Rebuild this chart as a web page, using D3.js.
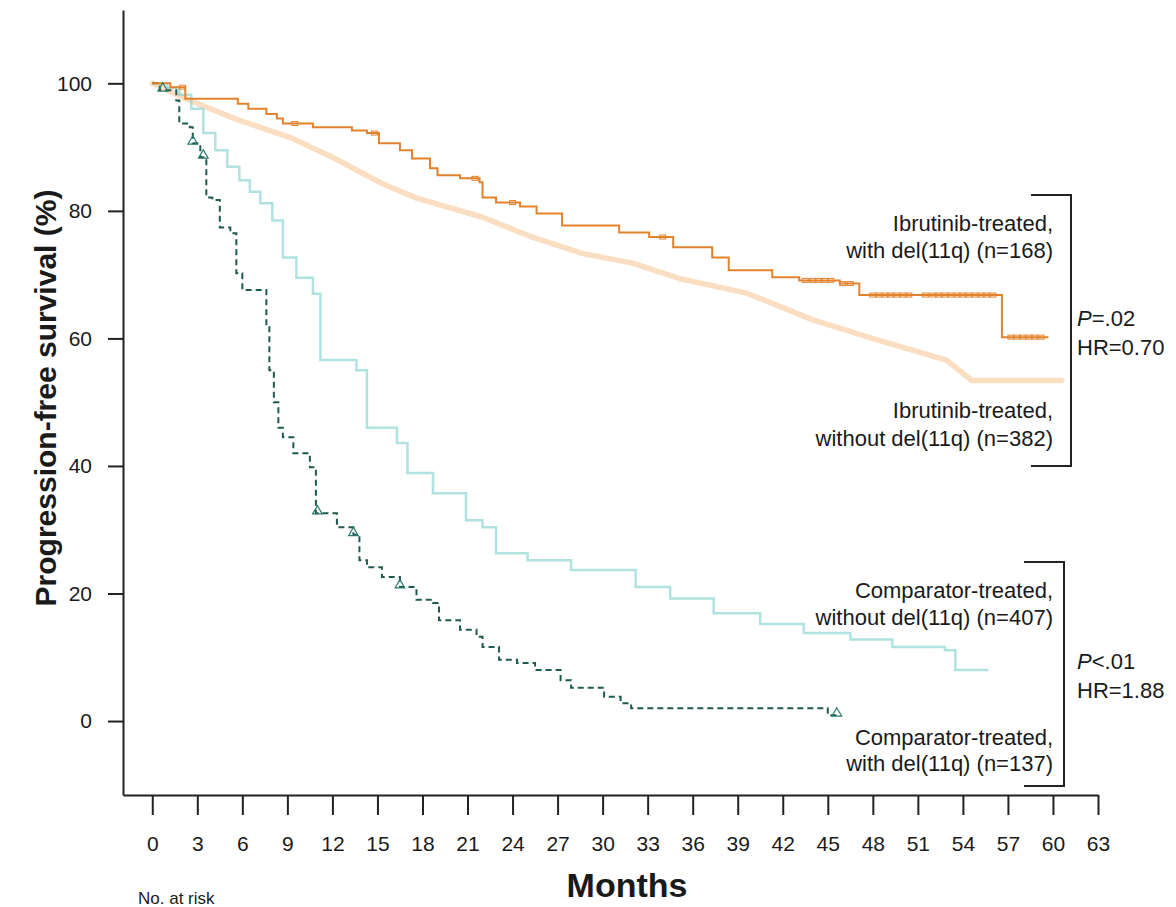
<!DOCTYPE html>
<html><head><meta charset="utf-8">
<script src="https://cdn.jsdelivr.net/npm/d3@7"></script>
<style>
body{margin:0;background:#fff}
svg{display:block}
text{font-family:"Liberation Sans",Arial,Helvetica,sans-serif;fill:#1a1a1a}
</style>
</head><body>
<svg id="chart" width="1176" height="907"></svg>
<script>
// ---- data (months, PFS %) ----
const xTickValues = [0,3,6,9,12,15,18,21,24,27,30,33,36,39,42,45,48,51,54,57,60,63];
const yTickValues = [0,20,40,60,80,100];

const ibrutinibDel = [[0,100],[1.2,99.4],[2.2,97.6],[5.7,96.8],[6.4,96.0],[7.6,95.2],[8.3,94.5],[8.7,93.7],[10.7,93.1],[13.3,92.6],[14.3,92.2],[15.1,90.6],[16.5,89.5],[17.3,88.2],[18.5,86.7],[19.0,85.6],[20.5,85.1],[21.8,84.5],[22.0,82.1],[22.9,81.3],[24.5,80.7],[25.6,79.6],[27.3,77.7],[31.1,76.6],[33.1,75.9],[34.7,74.3],[37.3,72.7],[38.4,70.7],[41.3,69.6],[43.1,69.1],[45.8,68.6],[47.1,66.8],[56.6,60.2],[59.7,60.2]];
const ibrutinibDelCensor = [2.0,9.5,14.8,21.5,24.0,34.0,43.5,44.0,44.4,44.8,45.2,46.0,46.5,48.0,48.4,48.8,49.2,49.6,50.0,50.4,51.5,52.0,52.4,52.8,53.2,53.6,54.0,54.4,54.8,55.2,55.6,56.0,57.2,57.6,58.0,58.4,58.8,59.2];

const ibrutinibNoDel = [[0,100],[2.5,97.3],[5.8,94.2],[9.2,91.5],[12.0,88.4],[15.3,84.3],[17.6,82],[22.0,79],[25.3,75.9],[28.7,73.3],[32.0,71.8],[35.1,69.4],[39.6,67.1],[44.0,62.9],[48.4,59.7],[52.9,56.6],[54.6,53.4],[60.6,53.4]];

const comparatorNoDel = [[0,100],[1.0,99.3],[1.8,98.2],[2.6,96],[3.4,92.2],[4.2,89.5],[5.0,86.9],[5.8,84.8],[6.5,83],[7.2,81.2],[8.0,78.5],[8.7,72.7],[9.6,69.5],[10.7,67],[11.2,56.6],[13.6,55],[14.3,46],[16.3,43.6],[17.0,38.9],[18.7,35.7],[20.9,31.5],[22.0,30.4],[22.9,26.3],[25.0,25.2],[27.9,23.7],[32.2,21],[34.5,19.2],[37.4,16.9],[40.5,15.2],[43.4,13.8],[46.5,12.8],[49.3,11.6],[52.8,11.1],[53.5,8],[55.7,8]];

const comparatorDel = [[0,100],[0.5,98.9],[1.6,97.3],[1.8,93.7],[2.5,93.1],[2.7,90.6],[3.2,88.4],[3.6,82.1],[4.0,81.7],[4.5,77.4],[5.2,76.5],[5.6,70.2],[6.0,67.6],[7.6,62],[7.8,55],[8.1,50],[8.4,46],[8.7,44.5],[9.4,42],[10.5,39.8],[10.9,32.6],[12.3,30.4],[13.4,29.2],[13.8,25.2],[14.3,24.1],[15.3,22.6],[16.5,21],[17.6,19],[18.7,18.5],[19.1,15.8],[20.5,14.3],[21.6,13.2],[22.0,11.6],[23.1,9.6],[24.3,9.1],[25.5,8],[27.2,6.4],[27.9,5.2],[30.1,3.8],[31.2,2.8],[31.9,2],[45.0,0.9],[45.7,0.9]];
const comparatorDelCensor = [0.7,2.7,3.4,11.0,13.4,16.5,45.6];

const labelIbrDel = ["Ibrutinib-treated,","with del(11q) (n=168)"];
const labelIbrNoDel = ["Ibrutinib-treated,","without del(11q) (n=382)"];
const labelCompNoDel = ["Comparator-treated,","without del(11q) (n=407)"];
const labelCompDel = ["Comparator-treated,","with del(11q) (n=137)"];
const statsIbr = ["P", "=.02", "HR=0.70"];
const statsComp = ["P", "<.01", "HR=1.88"];
const xTitle = "Months";
const yTitle = "Progression-free survival (%)";
const riskTitle = "No. at risk";

// ---- layout ----
const svg = d3.select("#chart");
const x = d3.scaleLinear().domain([-1.95, 63]).range([123, 1098]);
const y = d3.scaleLinear().domain([-11.6, 111.5]).range([795, 10]);

const stepVal = (s, t) => { let v = s[0][1]; for (const p of s) { if (p[0] <= t) v = p[1]; } return v; };

// axes
const xAxis = d3.axisBottom(x).tickValues(xTickValues).tickSize(20).tickSizeOuter(0).tickPadding(21);
const gx = svg.append("g").attr("transform", "translate(0,795)").call(xAxis);
gx.select(".domain").attr("stroke", "#222").attr("stroke-width", 2);
gx.selectAll(".tick line").attr("stroke", "#222").attr("stroke-width", 2);
gx.selectAll(".tick text").attr("font-size", 21).attr("fill", "#1a1a1a").attr("font-family", "Liberation Sans, Arial, sans-serif");

const yAxis = d3.axisLeft(y).tickValues(yTickValues).tickSize(15).tickSizeOuter(0).tickPadding(16);
const gy = svg.append("g").attr("transform", "translate(123,0)").call(yAxis);
gy.select(".domain").attr("stroke", "#222").attr("stroke-width", 2);
gy.selectAll(".tick line").attr("stroke", "#222").attr("stroke-width", 2);
gy.selectAll(".tick text").attr("font-size", 21).attr("fill", "#1a1a1a").attr("font-family", "Liberation Sans, Arial, sans-serif");

// titles
svg.append("text").attr("x", 627).attr("y", 897).attr("text-anchor", "middle")
  .attr("font-size", 34).attr("font-weight", "bold").text(xTitle);
svg.append("text").attr("transform", "translate(56,398) rotate(-90)").attr("text-anchor", "middle")
  .attr("font-size", 30).attr("font-weight", "bold").text(yTitle);
svg.append("text").attr("x", 138).attr("y", 904).attr("font-size", 17).text(riskTitle);

// curves
const stepLine = d3.line().x(d => x(d[0])).y(d => y(d[1])).curve(d3.curveStepAfter);
const smoothLine = d3.line().x(d => x(d[0])).y(d => y(d[1])).curve(d3.curveLinear);

svg.append("path").datum(ibrutinibNoDel).attr("d", smoothLine)
  .attr("fill", "none").attr("stroke", "#F4BE84").attr("stroke-width", 5.5).attr("stroke-opacity", 0.5)
  .attr("stroke-linejoin", "round").attr("stroke-linecap", "round");

svg.append("path").datum(comparatorNoDel).attr("d", stepLine)
  .attr("fill", "none").attr("stroke", "#7CCFCB").attr("stroke-width", 2.5).attr("stroke-opacity", 0.6);

svg.append("path").datum(comparatorDel).attr("d", stepLine)
  .attr("fill", "none").attr("stroke", "#1E5A50").attr("stroke-width", 2).attr("stroke-dasharray", "6,4");

svg.append("path").datum(ibrutinibDel).attr("d", stepLine)
  .attr("fill", "none").attr("stroke", "#E3822C").attr("stroke-width", 2);

// censor marks
svg.append("g").selectAll("rect").data(ibrutinibDelCensor).join("rect")
  .attr("x", d => x(d) - 3).attr("width", 6)
  .attr("y", d => y(stepVal(ibrutinibDel, d)) - 2).attr("height", 4)
  .attr("fill", "none").attr("stroke", "#E3822C").attr("stroke-width", 1);

const tri = d3.symbol().type(d3.symbolTriangle).size(40);
svg.append("g").selectAll("path").data(comparatorDelCensor).join("path")
  .attr("d", tri)
  .attr("transform", d => `translate(${x(d)},${y(stepVal(comparatorDel, d)) - 2})`)
  .attr("fill", "none").attr("stroke", "#2A7A6C").attr("stroke-width", 1.2);

// annotations
function lines(arr, xr, y0, dy) {
  arr.forEach((t, i) => svg.append("text").attr("x", xr).attr("y", y0 + i * dy)
    .attr("text-anchor", "end").attr("font-size", 22).text(t));
}
lines(labelIbrDel, 1053, 231, 27);
lines(labelIbrNoDel, 1053, 418, 28);
lines(labelCompNoDel, 1053, 598, 27);
lines(labelCompDel, 1053, 745, 26);

function stats(arr, x0, y0) {
  const t = svg.append("text").attr("x", x0).attr("y", y0).attr("font-size", 22);
  t.append("tspan").attr("font-style", "italic").text(arr[0]);
  t.append("tspan").text(arr[1]);
  svg.append("text").attr("x", x0).attr("y", y0 + 29).attr("font-size", 22).text(arr[2]);
}
stats(statsIbr, 1077, 326);
stats(statsComp, 1077, 669);

// brackets
function bracket(xv, top, bot) {
  svg.append("path").attr("d", `M${xv - 40},${top}H${xv}V${bot}H${xv - 40}`)
    .attr("fill", "none").attr("stroke", "#222").attr("stroke-width", 2);
}
bracket(1071, 195, 466);
bracket(1064, 562, 786);
</script>
</body></html>
